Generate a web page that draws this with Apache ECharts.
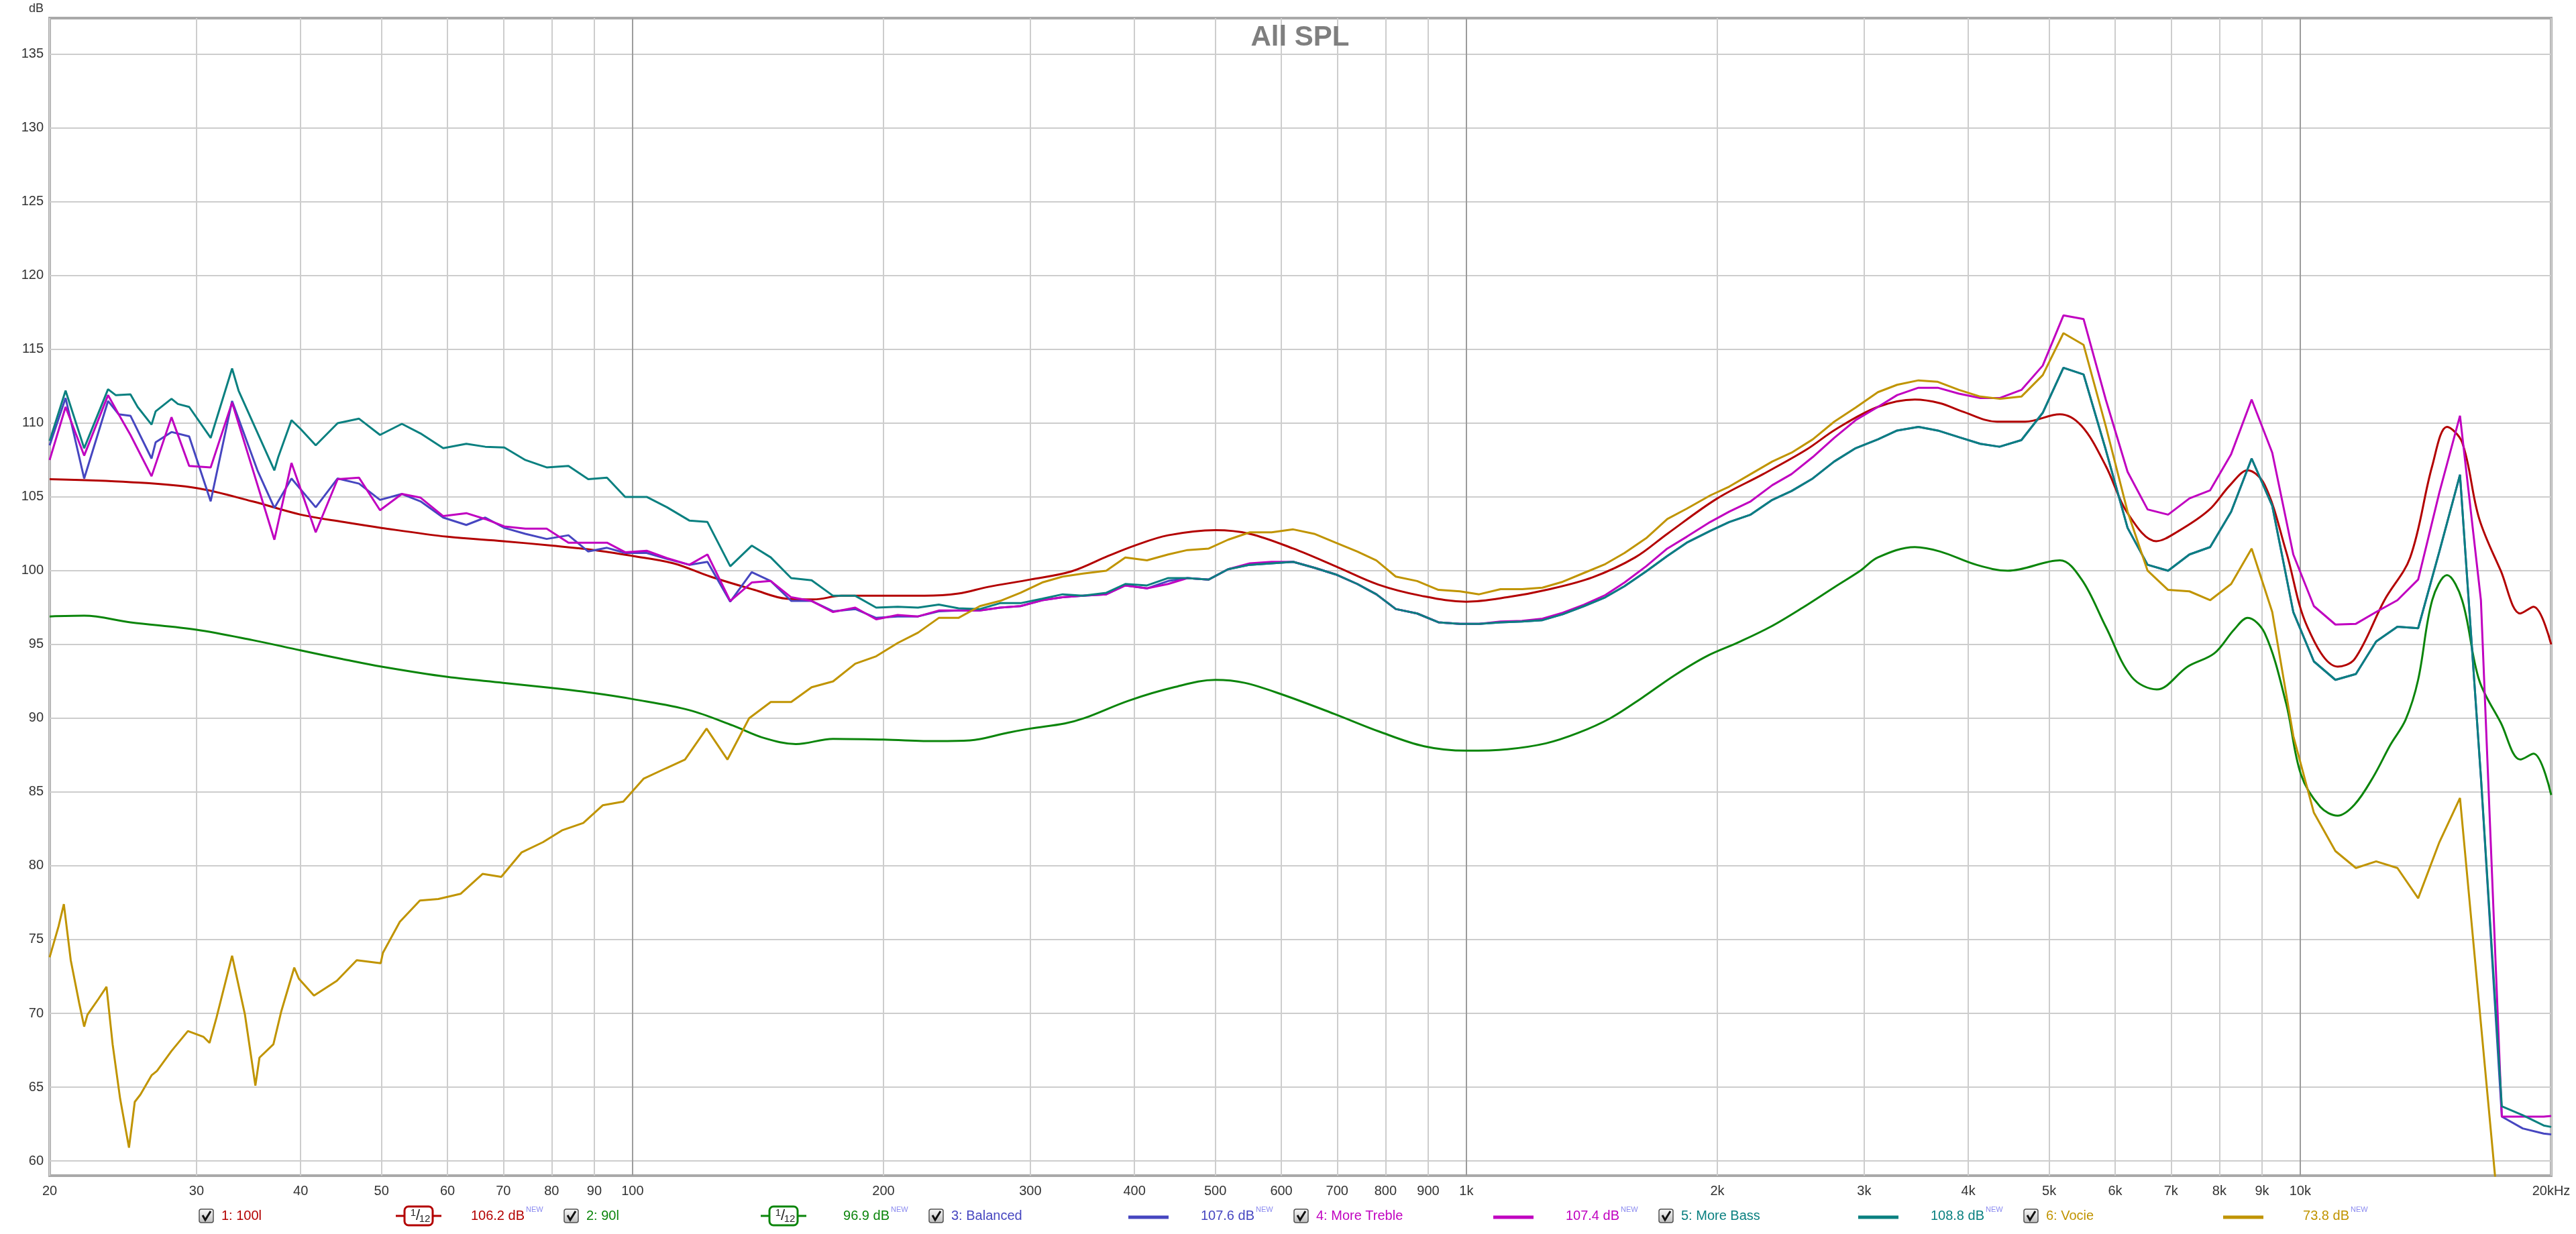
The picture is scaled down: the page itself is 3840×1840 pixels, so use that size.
<!DOCTYPE html>
<html><head><meta charset="utf-8">
<script src="https://cdn.jsdelivr.net/npm/echarts@6/dist/echarts.min.js"></script>
<style>html,body{margin:0;padding:0;background:#fff}#c{width:3840px;height:1840px}</style>
</head><body><div id="c"></div>
<script>
// ---------- data ----------
const seriesNames = ['1: 100l', '2: 90l', '3: Balanced', '4: More Treble', '5: More Bass', '6: Vocie'];
const legendValues = ['106.2 dB', '96.9 dB', '107.6 dB', '107.4 dB', '108.8 dB', '73.8 dB'];
const seriesColors = ['#b30000', '#0b850b', '#4646c0', '#c000c0', '#0a8080', '#c09400'];
const freqTicks = [20,30,40,50,60,70,80,90,100,200,300,400,500,600,700,800,900,1000,2000,3000,4000,5000,6000,7000,8000,9000,10000,20000];
const dbTicks = [60,65,70,75,80,85,90,95,100,105,110,115,120,125,130,135];

const s1_100l = [[20,106.2],[25,106.0],[30,105.6],[35,104.7],[40,103.8],[45,103.3],[50,102.9],[60,102.3],[70,102.0],[80,101.7],[90,101.4],[100,101.0],[112,100.5],[124,99.6],[140,98.7],[153,98.1],[165,98.05],[178,98.3],[200,98.3],[224,98.3],[246,98.45],[267,98.9],[300,99.4],[336,99.95],[372,101.0],[400,101.7],[439,102.4],[500,102.75],[550,102.5],[620,101.5],[697,100.3],[785,99.05],[883,98.3],[1000,97.9],[1119,98.2],[1259,98.75],[1417,99.55],[1594,100.9],[1742,102.5],[2000,104.9],[2270,106.55],[2557,108.2],[2777,109.6],[3115,111.1],[3450,111.6],[3700,111.35],[3930,110.8],[4330,110.1],[4680,110.1],[5150,110.6],[5470,109.8],[5846,107.1],[6209,103.9],[6720,102.0],[7130,102.65],[7770,104.1],[8240,105.8],[8650,106.8],[9070,105.8],[9620,101.3],[10200,96.2],[11090,93.5],[11620,94.0],[12620,98.0],[13550,100.9],[14400,107.1],[15000,109.75],[15640,108.7],[16390,103.55],[17400,100.0],[18370,97.1],[19050,97.55],[20000,95.0]];

const s2_90l = [[20,96.9],[22,96.95],[25,96.5],[30,96.0],[35,95.3],[40,94.6],[45,94.0],[50,93.5],[60,92.8],[70,92.4],[80,92.05],[90,91.7],[100,91.3],[117,90.55],[132,89.5],[144,88.65],[157,88.25],[174,88.6],[200,88.55],[232,88.45],[254,88.5],[281,89.0],[300,89.3],[330,89.65],[348,90.0],[394,91.2],[446,92.1],[500,92.6],[542,92.4],[602,91.6],[694,90.3],[786,89.1],[890,88.1],[1000,87.8],[1120,87.9],[1246,88.3],[1361,89.0],[1488,90.0],[1626,91.4],[1776,92.9],[1941,94.2],[2121,95.15],[2317,96.2],[2532,97.5],[2766,98.9],[2968,100.0],[3116,100.9],[3450,101.6],[3700,101.3],[4090,100.4],[4460,100.0],[5150,100.7],[5470,99.4],[5846,96.2],[6280,92.8],[6730,91.95],[7330,93.5],[7890,94.4],[8330,96.0],[8650,96.8],[9070,95.75],[9620,91.0],[10020,86.2],[10570,84.0],[11090,83.4],[11620,84.15],[12230,86.0],[12830,88.2],[13380,89.9],[13850,92.6],[14400,98.0],[15000,99.7],[15640,98.0],[16390,92.6],[17400,89.7],[18370,87.2],[19050,87.6],[20000,84.8]];

const s3_balanced = [[20,108.5],[20.9,111.7],[22,106.25],[23.5,111.5],[24.2,110.6],[25,110.5],[26.5,107.6],[26.8,108.7],[28,109.4],[29.4,109.1],[31.2,104.7],[33.1,111.5],[35.5,106.8],[37.2,104.25],[39,106.25],[41.7,104.3],[44.3,106.25],[47,105.9],[49.8,104.8],[52.9,105.2],[55.7,104.7],[59.3,103.6],[63.2,103.1],[66.6,103.6],[70.2,102.9],[74.4,102.5],[78.9,102.15],[83.8,102.4],[88.5,101.3],[93.2,101.55],[98,101.2],[104,101.2],[110,100.8],[117,100.4],[123,100.6],[131,97.9],[139,99.9],[146.5,99.3],[155,97.95],[164,97.95],[174,97.25],[185,97.4],[196,96.8],[208,96.9],[220,96.9],[233,97.25],[246,97.3],[261,97.3],[276,97.5],[292,97.6],[310,98.0],[328,98.2],[347,98.3],[370,98.4],[390,99.0],[414,98.8],[439,99.3],[463,99.5],[491,99.4],[518,100.1],[550,100.4],[584,100.5],[620,100.6],[657,100.2],[697,99.75],[740,99.1],[780,98.4],[823,97.4],[873,97.1],[926,96.5],[983,96.4],[1036,96.4],[1099,96.5],[1166,96.55],[1234,96.65],[1305,97.05],[1384,97.6],[1468,98.2],[1548,98.95],[1643,99.95],[1742,101.0],[1838,101.9],[1961,102.7],[2067,103.3],[2193,103.8],[2328,104.8],[2455,105.4],[2603,106.25],[2762,107.4],[2930,108.3],[3116,108.9],[3286,109.5],[3485,109.75],[3676,109.5],[3898,109.05],[4134,108.6],[4359,108.4],[4631,108.85],[4912,110.7],[5201,113.75],[5499,113.3],[5846,108.2],[6209,102.9],[6562,100.4],[6944,100.0],[7366,101.1],[7799,101.6],[8265,104.0],[8746,107.6],[9258,104.4],[9812,97.2],[10386,93.85],[11022,92.6],[11664,93.0],[12335,95.2],[13080,96.2],[13852,96.1],[14687,101.3],[15548,106.5],[16473,86.0],[17453,63.0],[18491,62.2],[19591,61.85],[20000,61.8]];

const s4_moreTreble = [[20,107.5],[20.9,111.1],[22,107.8],[23.5,111.9],[24.2,110.6],[25,109.2],[26.5,106.4],[28,110.4],[29.4,107.1],[31.2,107.0],[33.1,111.4],[37.2,102.1],[39,107.3],[41.7,102.6],[44.3,106.2],[47,106.3],[49.8,104.1],[52.9,105.2],[55.7,104.95],[59.3,103.7],[63.2,103.9],[66.6,103.5],[70.2,103.0],[74.4,102.85],[78.9,102.85],[83.8,101.9],[88.5,101.9],[93.2,101.9],[98,101.25],[104,101.35],[110,100.85],[117,100.4],[123,101.1],[131,97.95],[139,99.2],[146.5,99.3],[155,98.2],[164,97.95],[174,97.2],[185,97.5],[196,96.7],[208,97.0],[220,96.9],[233,97.3],[246,97.3],[261,97.3],[276,97.5],[292,97.6],[310,98.0],[328,98.2],[347,98.3],[370,98.4],[390,99.0],[414,98.8],[439,99.1],[463,99.5],[491,99.4],[518,100.1],[550,100.5],[584,100.6],[620,100.6],[657,100.2],[697,99.75],[740,99.1],[780,98.4],[823,97.4],[873,97.1],[926,96.5],[983,96.4],[1036,96.4],[1099,96.55],[1166,96.6],[1234,96.75],[1305,97.15],[1384,97.7],[1468,98.35],[1548,99.2],[1643,100.3],[1742,101.5],[1838,102.3],[1961,103.3],[2067,104.0],[2193,104.7],[2328,105.8],[2455,106.55],[2603,107.7],[2762,109.0],[2930,110.2],[3116,111.1],[3286,111.9],[3485,112.4],[3676,112.4],[3898,112.0],[4134,111.7],[4359,111.7],[4631,112.25],[4912,113.9],[5201,117.3],[5499,117.05],[5846,111.6],[6209,106.7],[6562,104.15],[6944,103.8],[7366,104.9],[7799,105.45],[8265,107.9],[8746,111.6],[9258,108.0],[9812,101.1],[10386,97.6],[11022,96.35],[11664,96.4],[12335,97.2],[13080,98.0],[13852,99.4],[14687,105.3],[15548,110.5],[16473,98.0],[17453,63.0],[18491,63.0],[19591,63.0],[20000,63.05]];

const s5_moreBass = [[20,108.8],[20.9,112.2],[22,108.3],[23.5,112.3],[24,111.9],[25,111.95],[25.5,111.1],[26.5,109.9],[26.8,110.8],[28,111.65],[28.5,111.3],[29.4,111.1],[31.2,109.0],[33.1,113.7],[33.7,112.2],[37.2,106.8],[37.6,107.7],[39,110.2],[40,109.6],[41.7,108.5],[44.3,110.0],[47,110.3],[49.8,109.2],[52.9,109.95],[55.7,109.3],[59.3,108.3],[63.2,108.6],[66.6,108.4],[70.2,108.35],[74.4,107.5],[78.9,107.0],[83.8,107.1],[88.5,106.2],[93.2,106.3],[98,105.0],[104,105.0],[110,104.3],[117,103.4],[123,103.3],[131,100.3],[139,101.7],[146.5,100.9],[155,99.5],[164,99.35],[174,98.3],[185,98.3],[196,97.5],[208,97.55],[220,97.5],[233,97.7],[246,97.45],[261,97.4],[276,97.8],[292,97.8],[310,98.1],[328,98.4],[347,98.3],[370,98.5],[390,99.1],[414,99.0],[439,99.5],[463,99.5],[491,99.4],[518,100.1],[550,100.4],[584,100.5],[620,100.6],[657,100.2],[697,99.75],[740,99.1],[780,98.4],[823,97.4],[873,97.1],[926,96.5],[983,96.4],[1036,96.4],[1099,96.5],[1166,96.55],[1234,96.65],[1305,97.05],[1384,97.6],[1468,98.2],[1548,98.95],[1643,99.95],[1742,101.0],[1838,101.9],[1961,102.7],[2067,103.3],[2193,103.8],[2328,104.8],[2455,105.4],[2603,106.25],[2762,107.4],[2930,108.3],[3116,108.9],[3286,109.5],[3485,109.75],[3676,109.5],[3898,109.05],[4134,108.6],[4359,108.4],[4631,108.85],[4912,110.7],[5201,113.75],[5499,113.3],[5846,108.2],[6209,102.9],[6562,100.4],[6944,100.0],[7366,101.1],[7799,101.6],[8265,104.0],[8746,107.6],[9258,104.4],[9812,97.2],[10386,93.85],[11022,92.6],[11664,93.0],[12335,95.2],[13080,96.2],[13852,96.1],[14687,101.3],[15548,106.5],[16473,86.0],[17453,63.7],[18491,63.1],[19591,62.4],[20000,62.3]];

const s6_vocie = [[20,73.8],[20.5,75.9],[20.8,77.4],[21.2,73.6],[21.7,70.7],[22,69.1],[22.2,69.9],[22.9,71.0],[23.4,71.8],[23.8,67.9],[24.3,64.2],[24.9,60.9],[25.3,64.0],[25.7,64.5],[26.5,65.8],[26.9,66.1],[28,67.45],[29.3,68.8],[30.6,68.4],[31.1,68.0],[31.7,69.7],[33.1,73.9],[34.3,69.9],[35.3,65.1],[35.7,67.0],[37.1,67.9],[37.9,70.1],[39.3,73.1],[39.8,72.35],[41.5,71.2],[44.2,72.2],[46.7,73.6],[49.9,73.4],[50.2,74.1],[52.6,76.2],[55.6,77.65],[58.5,77.75],[62.2,78.1],[66.1,79.45],[69.6,79.25],[73.6,80.9],[78.1,81.6],[82.3,82.4],[87.3,82.9],[92.1,84.1],[97.5,84.35],[103.1,85.9],[109.6,86.6],[115.6,87.2],[122.7,89.3],[130,87.2],[138,90.0],[146.5,91.1],[155,91.1],[164,92.1],[174,92.5],[185,93.7],[196,94.2],[208,95.1],[220,95.8],[233,96.8],[246,96.8],[261,97.6],[276,97.95],[292,98.5],[310,99.2],[328,99.6],[347,99.8],[370,100.0],[390,100.9],[414,100.7],[439,101.1],[463,101.4],[491,101.5],[518,102.1],[550,102.6],[584,102.6],[620,102.8],[657,102.5],[697,101.9],[740,101.3],[780,100.7],[823,99.6],[873,99.3],[926,98.7],[983,98.6],[1036,98.4],[1099,98.75],[1166,98.75],[1234,98.85],[1305,99.25],[1384,99.85],[1468,100.45],[1548,101.2],[1643,102.2],[1742,103.5],[1838,104.2],[1961,105.1],[2067,105.7],[2193,106.55],[2328,107.4],[2455,108.0],[2603,108.9],[2762,110.1],[2930,111.05],[3116,112.1],[3286,112.6],[3485,112.9],[3676,112.8],[3898,112.25],[4134,111.8],[4359,111.65],[4631,111.8],[4912,113.25],[5201,116.1],[5499,115.3],[5846,109.8],[6209,104.0],[6562,100.0],[6944,98.7],[7366,98.6],[7799,98.0],[8265,99.1],[8746,101.5],[9258,97.2],[9812,88.8],[10386,83.6],[11022,81.0],[11664,79.85],[12335,80.3],[13080,79.85],[13852,77.8],[14687,81.6],[15548,84.6],[17453,54.0]];

const seriesData = [s1_100l, s2_90l, s3_balanced, s4_moreTreble, s5_moreBass, s6_vocie];
const smoothFlags = [0.35, 0.35, false, false, false, false];

// ---------- chart ----------
const chart = echarts.init(document.getElementById('c'), null, {renderer: 'canvas'});
const FONT = 'Liberation Sans, Arial, sans-serif';
const light = '#cdcdcd', dark = '#9c9c9c';

function fmtFreq(v) {
  if (v >= 20000) return '20kHz';
  if (v >= 1000) return (v / 1000) + 'k';
  return String(v);
}

// title, unit and legend built with graphic elements
const graphics = [];
graphics.push({type: 'text', x: 1938, y: 56, silent: true, z: 50,
  style: {text: 'All SPL', fill: '#7f7f7f', font: 'bold 42px ' + FONT, align: 'center', verticalAlign: 'middle'}});
graphics.push({type: 'text', x: 65, y: 13, silent: true,
  style: {text: 'dB', fill: '#333', font: '18px ' + FONT, align: 'right', verticalAlign: 'middle'}});

const LY = 1813;
seriesNames.forEach((name, i) => {
  const base = 297 + i * 544;
  const col = seriesColors[i];
  graphics.push({type: 'rect', silent: true,
    shape: {x: base, y: LY - 10, width: 21, height: 20, r: 3},
    style: {fill: new echarts.graphic.LinearGradient(0, 0, 0, 1, [{offset: 0, color: '#fbfbfb'}, {offset: 1, color: '#bcbcbc'}]), stroke: '#505050', lineWidth: 1.5}});
  graphics.push({type: 'polyline', silent: true,
    shape: {points: [[base + 5, LY - 1], [base + 9, LY + 6], [base + 17, LY - 7]]},
    style: {stroke: '#111', lineWidth: 3, fill: null}});
  graphics.push({type: 'text', x: base + 33, y: LY, silent: true,
    style: {text: name, fill: col, font: '20px ' + FONT, align: 'left', verticalAlign: 'middle'}});
  const cx = base + 327;
  if (i < 2) {
    graphics.push({type: 'line', silent: true, shape: {x1: cx - 34, y1: LY, x2: cx + 34, y2: LY}, style: {stroke: col, lineWidth: 3}});
    graphics.push({type: 'rect', silent: true, shape: {x: cx - 21, y: LY - 14, width: 42, height: 28, r: 6}, style: {fill: '#fff', stroke: col, lineWidth: 3}});
    graphics.push({type: 'text', x: cx - 8, y: LY - 4, silent: true, style: {text: '1', fill: '#222', font: '15px ' + FONT, align: 'center', verticalAlign: 'middle'}});
    graphics.push({type: 'text', x: cx - 1, y: LY, silent: true, style: {text: '/', fill: '#222', font: '22px ' + FONT, align: 'center', verticalAlign: 'middle'}});
    graphics.push({type: 'text', x: cx + 9, y: LY + 5, silent: true, style: {text: '12', fill: '#222', font: '15px ' + FONT, align: 'center', verticalAlign: 'middle'}});
  } else {
    graphics.push({type: 'line', silent: true, shape: {x1: cx - 30, y1: LY + 2, x2: cx + 30, y2: LY + 2}, style: {stroke: col, lineWidth: 5}});
  }
  graphics.push({type: 'text', x: base + 485, y: LY, silent: true,
    style: {text: legendValues[i], fill: col, font: '20px ' + FONT, align: 'right', verticalAlign: 'middle'}});
  graphics.push({type: 'text', x: base + 487, y: LY - 9, silent: true,
    style: {text: 'NEW', fill: '#8a8af0', font: '11px ' + FONT, align: 'left', verticalAlign: 'middle'}});
});

const option = {
  animation: false,
  backgroundColor: '#ffffff',
  grid: {left: 74, right: 37, top: 27, bottom: 87, show: true, borderColor: '#a9a9a9', borderWidth: 4, backgroundColor: '#ffffff', containLabel: false, outerBoundsMode: 'none'},
  xAxis: {
    type: 'log', logBase: 10, min: 20, max: 20000,
    axisLine: {show: false},
    axisTick: {show: false, customValues: freqTicks},
    minorTick: {show: false}, minorSplitLine: {show: false},
    axisLabel: {customValues: freqTicks, formatter: fmtFreq, color: '#333', fontSize: 20, fontFamily: FONT, margin: 13, hideOverlap: false},
    splitLine: {show: true, lineStyle: {color: [light, light, light, light, light, light, light, light, dark], width: 2}}
  },
  yAxis: {
    type: 'value', min: 59, max: 137.45,
    axisLine: {show: false},
    axisTick: {show: false, customValues: dbTicks},
    axisLabel: {customValues: dbTicks, color: '#333', fontSize: 20, fontFamily: FONT, margin: 9},
    splitLine: {show: true, lineStyle: {color: light, width: 2}}
  },
  graphic: graphics,
  series: seriesData.map((d, i) => ({
    name: seriesNames[i], type: 'line', data: d, showSymbol: false, symbol: 'none',
    smooth: smoothFlags[i], clip: true, silent: true,
    lineStyle: {color: seriesColors[i], width: 3}, itemStyle: {color: seriesColors[i]},
    z: 2 + i
  }))
};
chart.setOption(option);
</script>
</body></html>
